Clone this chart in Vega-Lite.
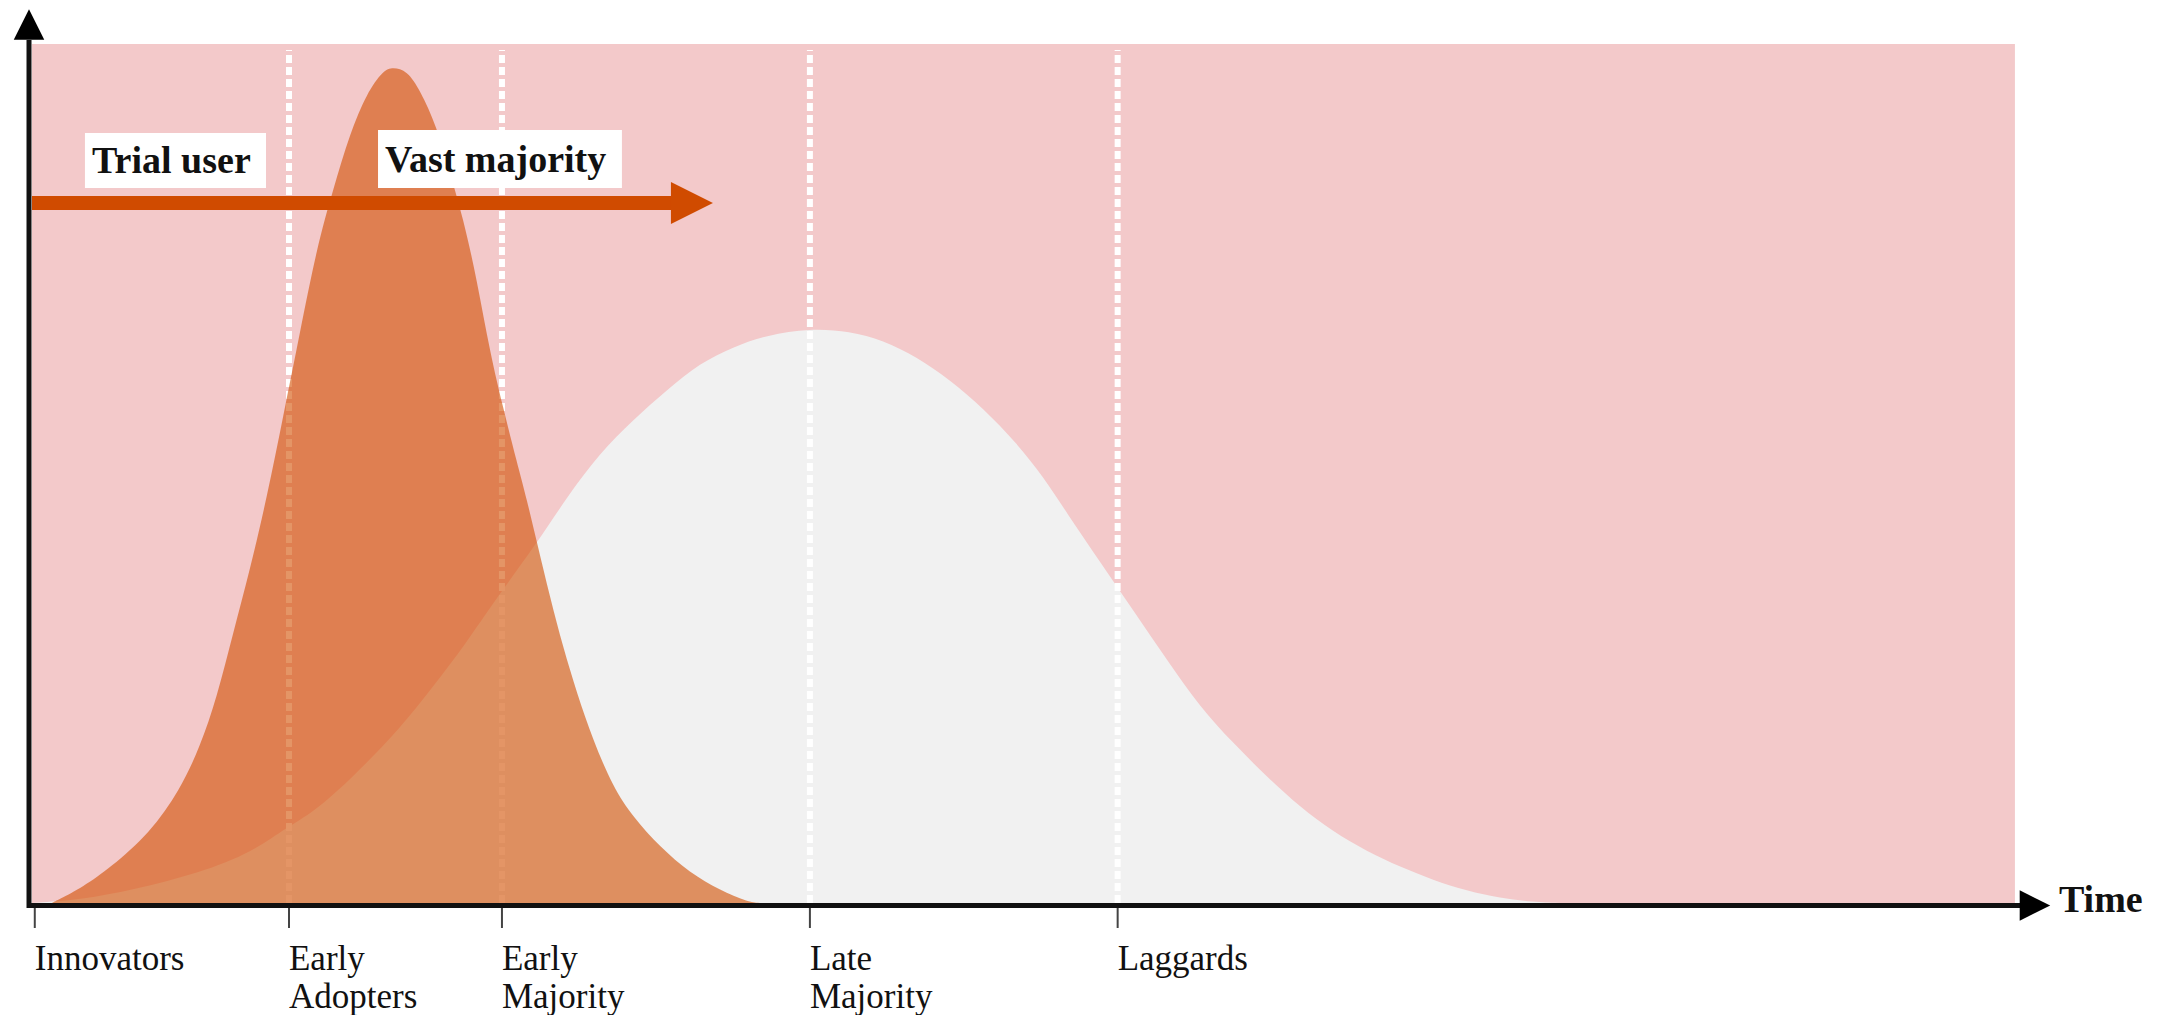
{
  "$schema": "https://vega.github.io/schema/vega-lite/v6.json",
  "width": 2169,
  "height": 1015,
  "autosize": {"type": "fit", "contains": "padding"},
  "padding": 0,
  "background": "white",
  "config": {"view": {"stroke": null}},
  "datasets": {
    "curves": [
      {"series": "trial", "t": 1.0, "v": 0},
      {"series": "trial", "t": 1.31, "v": 0.35},
      {"series": "trial", "t": 2.57, "v": 1.86},
      {"series": "trial", "t": 3.93, "v": 4.07},
      {"series": "trial", "t": 5.95, "v": 8.15},
      {"series": "trial", "t": 7.46, "v": 13.15},
      {"series": "trial", "t": 8.47, "v": 18.16},
      {"series": "trial", "t": 9.33, "v": 23.98},
      {"series": "trial", "t": 10.14, "v": 31.43},
      {"series": "trial", "t": 10.99, "v": 38.77},
      {"series": "trial", "t": 11.85, "v": 47.26},
      {"series": "trial", "t": 12.66, "v": 56.58},
      {"series": "trial", "t": 13.51, "v": 66.36},
      {"series": "trial", "t": 14.37, "v": 76.37},
      {"series": "trial", "t": 15.18, "v": 83.0},
      {"series": "trial", "t": 16.04, "v": 89.64},
      {"series": "trial", "t": 16.89, "v": 94.3},
      {"series": "trial", "t": 17.7, "v": 96.9},
      {"series": "trial", "t": 18.2, "v": 97.3},
      {"series": "trial", "t": 18.91, "v": 96.9},
      {"series": "trial", "t": 19.57, "v": 94.64},
      {"series": "trial", "t": 20.42, "v": 90.34},
      {"series": "trial", "t": 21.08, "v": 84.98},
      {"series": "trial", "t": 21.73, "v": 79.86},
      {"series": "trial", "t": 22.44, "v": 72.53},
      {"series": "trial", "t": 23.1, "v": 64.03},
      {"series": "trial", "t": 23.75, "v": 57.74},
      {"series": "trial", "t": 24.46, "v": 51.22},
      {"series": "trial", "t": 24.96, "v": 46.92},
      {"series": "trial", "t": 25.47, "v": 41.91},
      {"series": "trial", "t": 26.12, "v": 35.62},
      {"series": "trial", "t": 26.78, "v": 29.8},
      {"series": "trial", "t": 27.48, "v": 24.45},
      {"series": "trial", "t": 28.29, "v": 18.98},
      {"series": "trial", "t": 29.3, "v": 13.5},
      {"series": "trial", "t": 30.31, "v": 10.01},
      {"series": "trial", "t": 31.67, "v": 6.52},
      {"series": "trial", "t": 33.18, "v": 3.49},
      {"series": "trial", "t": 34.69, "v": 1.51},
      {"series": "trial", "t": 36.11, "v": 0.12},
      {"series": "trial", "t": 36.71, "v": 0},
      {"series": "later", "t": 0, "v": 0},
      {"series": "later", "t": 2.42, "v": 0.35},
      {"series": "later", "t": 5.09, "v": 1.51},
      {"series": "later", "t": 8.47, "v": 3.49},
      {"series": "later", "t": 11.14, "v": 5.94},
      {"series": "later", "t": 12.86, "v": 8.85},
      {"series": "later", "t": 14.17, "v": 10.48},
      {"series": "later", "t": 16.19, "v": 14.67},
      {"series": "later", "t": 18.56, "v": 20.3},
      {"series": "later", "t": 20.22, "v": 25.15},
      {"series": "later", "t": 21.94, "v": 30.4},
      {"series": "later", "t": 23.25, "v": 34.92},
      {"series": "later", "t": 25.47, "v": 41.91},
      {"series": "later", "t": 26.98, "v": 47.26},
      {"series": "later", "t": 28.64, "v": 52.39},
      {"series": "later", "t": 30.31, "v": 56.23},
      {"series": "later", "t": 32.02, "v": 59.72},
      {"series": "later", "t": 33.69, "v": 62.86},
      {"series": "later", "t": 35.35, "v": 64.73},
      {"series": "later", "t": 37.07, "v": 66.12},
      {"series": "later", "t": 39.23, "v": 66.9},
      {"series": "later", "t": 41.25, "v": 66.55},
      {"series": "later", "t": 42.91, "v": 65.54},
      {"series": "later", "t": 44.63, "v": 63.56},
      {"series": "later", "t": 46.29, "v": 60.88},
      {"series": "later", "t": 47.96, "v": 57.63},
      {"series": "later", "t": 49.67, "v": 53.5},
      {"series": "later", "t": 51.0, "v": 49.6},
      {"series": "later", "t": 52.19, "v": 45.4},
      {"series": "later", "t": 53.86, "v": 39.7},
      {"series": "later", "t": 55.52, "v": 34.11},
      {"series": "later", "t": 57.24, "v": 28.29},
      {"series": "later", "t": 58.9, "v": 22.82},
      {"series": "later", "t": 60.57, "v": 18.63},
      {"series": "later", "t": 62.28, "v": 14.67},
      {"series": "later", "t": 63.94, "v": 11.18},
      {"series": "later", "t": 65.61, "v": 8.3},
      {"series": "later", "t": 67.32, "v": 6.0},
      {"series": "later", "t": 69.01, "v": 4.19},
      {"series": "later", "t": 70.65, "v": 2.68},
      {"series": "later", "t": 72.37, "v": 1.4},
      {"series": "later", "t": 74.03, "v": 0.58},
      {"series": "later", "t": 75.69, "v": 0.12},
      {"series": "later", "t": 77.06, "v": 0}
    ],
    "stages": [
      {"stage": "Innovators", "t": 0.14, "label": "Innovators", "divider": false},
      {"stage": "Early Adopters", "t": 12.96, "label": "Early\nAdopters", "divider": true},
      {"stage": "Early Majority", "t": 23.7, "label": "Early\nMajority", "divider": true},
      {"stage": "Late Majority", "t": 39.23, "label": "Late\nMajority", "divider": true},
      {"stage": "Laggards", "t": 54.75, "label": "Laggards", "divider": true}
    ],
    "boxes": [
      {"label": "Trial user", "t": 2.67, "t2": 11.8, "v": 83.24, "v2": 89.64, "tt": 3.03, "vt": 84.98},
      {"label": "Vast majority", "t": 17.45, "t2": 29.75, "v": 83.24, "v2": 89.99, "tt": 17.8, "vt": 85.1}
    ],
    "axes": [
      {"axis": "y", "t": -0.151, "t2": -0.151, "v": -0.58, "v2": 100.47},
      {"axis": "x", "t": -0.25, "t2": 100.35, "v": -0.29, "v2": -0.29}
    ],
    "heads": [
      {"dir": "up", "t": -0.151, "v": 102.27},
      {"dir": "right", "t": 101.01, "v": -0.29}
    ]
  },
  "layer": [
    {
      "data": {"values": [{"t": 0, "t2": 100, "v": 0, "v2": 100}]},
      "mark": {"type": "rect", "color": "#F3C9CA"},
      "encoding": {
        "x": {"field": "t", "type": "quantitative", "scale": {"domain": [-1.614, 107.77], "nice": false, "zero": false}, "axis": null},
        "y": {"field": "v", "type": "quantitative", "scale": {"domain": [-13.04, 105.12], "nice": false, "zero": false}, "axis": null},
        "x2": {"field": "t2"}, "y2": {"field": "v2"}
      }
    },
    {
      "data": {"name": "curves"},
      "transform": [{"filter": "datum.series === 'later'"}],
      "mark": {"type": "area", "color": "#F1F1F1", "interpolate": "basis"},
      "encoding": {
        "x": {"field": "t", "type": "quantitative", "scale": {"domain": [-1.614, 107.77], "nice": false, "zero": false}, "axis": null},
        "y": {"field": "v", "type": "quantitative", "scale": {"domain": [-13.04, 105.12], "nice": false, "zero": false}, "axis": null},
        "y2": {"datum": 0}
      }
    },
    {
      "data": {"name": "stages"},
      "transform": [{"filter": "datum.divider"}],
      "mark": {"type": "rule", "color": "white", "strokeWidth": 6, "strokeDash": [8, 4]},
      "encoding": {
        "x": {"field": "t", "type": "quantitative", "scale": {"domain": [-1.614, 107.77], "nice": false, "zero": false}, "axis": null},
        "y": {"datum": 0, "type": "quantitative", "scale": {"domain": [-13.04, 105.12], "nice": false, "zero": false}, "axis": null},
        "y2": {"datum": 99.3}
      }
    },
    {
      "data": {"name": "curves"},
      "transform": [{"filter": "datum.series === 'trial'"}],
      "mark": {"type": "area", "color": "#D24E00", "opacity": 0.6, "interpolate": "basis"},
      "encoding": {
        "x": {"field": "t", "type": "quantitative", "scale": {"domain": [-1.614, 107.77], "nice": false, "zero": false}, "axis": null},
        "y": {"field": "v", "type": "quantitative", "scale": {"domain": [-13.04, 105.12], "nice": false, "zero": false}, "axis": null},
        "y2": {"datum": 0}
      }
    },
    {
      "data": {"values": [{"t": 0, "t2": 32.6, "v": 81.49}]},
      "mark": {"type": "rule", "color": "#D04B00", "strokeWidth": 14},
      "encoding": {
        "x": {"field": "t", "type": "quantitative", "scale": {"domain": [-1.614, 107.77], "nice": false, "zero": false}, "axis": null},
        "y": {"field": "v", "type": "quantitative", "scale": {"domain": [-13.04, 105.12], "nice": false, "zero": false}, "axis": null},
        "x2": {"field": "t2"}
      }
    },
    {
      "data": {"values": [{"t": 33.28, "v": 81.49}]},
      "mark": {"type": "point", "shape": "M-1,-1L1,0L-1,1Z", "size": 1764, "filled": true, "color": "#D04B00", "opacity": 1},
      "encoding": {
        "x": {"field": "t", "type": "quantitative", "scale": {"domain": [-1.614, 107.77], "nice": false, "zero": false}, "axis": null},
        "y": {"field": "v", "type": "quantitative", "scale": {"domain": [-13.04, 105.12], "nice": false, "zero": false}, "axis": null}
      }
    },
    {
      "data": {"name": "boxes"},
      "mark": {"type": "rect", "color": "white"},
      "encoding": {
        "x": {"field": "t", "type": "quantitative", "scale": {"domain": [-1.614, 107.77], "nice": false, "zero": false}, "axis": null},
        "y": {"field": "v", "type": "quantitative", "scale": {"domain": [-13.04, 105.12], "nice": false, "zero": false}, "axis": null},
        "x2": {"field": "t2"}, "y2": {"field": "v2"}
      }
    },
    {
      "data": {"name": "boxes"},
      "mark": {"type": "text", "font": "Liberation Serif", "fontWeight": "bold", "fontSize": 38, "align": "left", "baseline": "alphabetic", "color": "#111111"},
      "encoding": {
        "x": {"field": "tt", "type": "quantitative", "scale": {"domain": [-1.614, 107.77], "nice": false, "zero": false}, "axis": null},
        "y": {"field": "vt", "type": "quantitative", "scale": {"domain": [-13.04, 105.12], "nice": false, "zero": false}, "axis": null},
        "text": {"field": "label"}
      }
    },
    {
      "data": {"name": "axes"},
      "mark": {"type": "rule", "color": "#111111", "strokeWidth": 5},
      "encoding": {
        "x": {"field": "t", "type": "quantitative", "scale": {"domain": [-1.614, 107.77], "nice": false, "zero": false}, "axis": null},
        "y": {"field": "v", "type": "quantitative", "scale": {"domain": [-13.04, 105.12], "nice": false, "zero": false}, "axis": null},
        "x2": {"field": "t2"}, "y2": {"field": "v2"}
      }
    },
    {
      "data": {"name": "heads"},
      "mark": {"type": "point", "filled": true, "size": 930, "color": "#000000", "opacity": 1},
      "encoding": {
        "x": {"field": "t", "type": "quantitative", "scale": {"domain": [-1.614, 107.77], "nice": false, "zero": false}, "axis": null},
        "y": {"field": "v", "type": "quantitative", "scale": {"domain": [-13.04, 105.12], "nice": false, "zero": false}, "axis": null},
        "shape": {"field": "dir", "type": "nominal", "scale": {"domain": ["up", "right"], "range": ["M-1,1L0,-1L1,1Z", "M-1,-1L1,0L-1,1Z"]}, "legend": null}
      }
    },
    {
      "data": {"name": "stages"},
      "mark": {"type": "rule", "color": "#444444", "strokeWidth": 2},
      "encoding": {
        "x": {"field": "t", "type": "quantitative", "scale": {"domain": [-1.614, 107.77], "nice": false, "zero": false}, "axis": null},
        "y": {"datum": -0.58, "type": "quantitative", "scale": {"domain": [-13.04, 105.12], "nice": false, "zero": false}, "axis": null},
        "y2": {"datum": -2.91}
      }
    },
    {
      "data": {"name": "stages"},
      "mark": {"type": "text", "font": "Liberation Serif", "fontSize": 35, "align": "left", "baseline": "alphabetic", "lineBreak": "\n", "lineHeight": 38, "color": "#111111"},
      "encoding": {
        "x": {"field": "t", "type": "quantitative", "scale": {"domain": [-1.614, 107.77], "nice": false, "zero": false}, "axis": null},
        "y": {"datum": -7.8, "type": "quantitative", "scale": {"domain": [-13.04, 105.12], "nice": false, "zero": false}, "axis": null},
        "text": {"field": "label"}
      }
    },
    {
      "data": {"values": [{"t": 102.22, "v": -1.05, "label": "Time"}]},
      "mark": {"type": "text", "font": "Liberation Serif", "fontWeight": "bold", "fontSize": 38, "align": "left", "baseline": "alphabetic", "color": "#111111"},
      "encoding": {
        "x": {"field": "t", "type": "quantitative", "scale": {"domain": [-1.614, 107.77], "nice": false, "zero": false}, "axis": null},
        "y": {"field": "v", "type": "quantitative", "scale": {"domain": [-13.04, 105.12], "nice": false, "zero": false}, "axis": null},
        "text": {"field": "label"}
      }
    }
  ]
}
